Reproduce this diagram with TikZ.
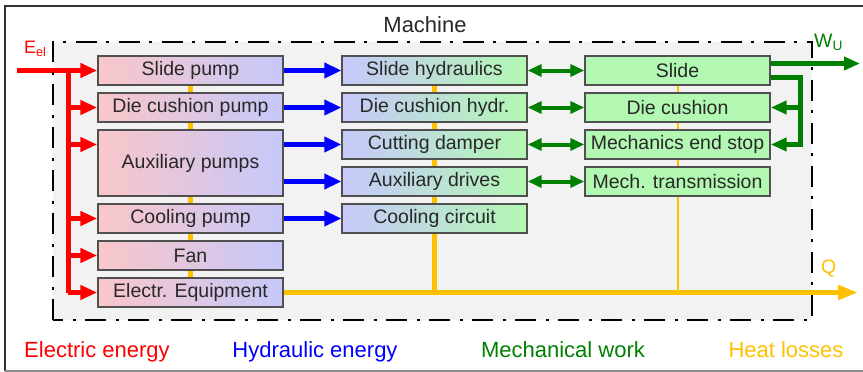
\documentclass[tikz,border=0pt]{standalone}
\usepackage{fontspec}
\setmainfont{Liberation Sans}
\usetikzlibrary{arrows.meta}
\definecolor{cred}{RGB}{255,0,0}
\definecolor{cblue}{RGB}{0,0,255}
\definecolor{cgreen}{RGB}{0,128,0}
\definecolor{cyel}{RGB}{255,192,0}
\definecolor{pinkc}{RGB}{250,198,200}
\definecolor{lavc}{RGB}{198,200,250}
\definecolor{grnc}{RGB}{178,248,178}
\definecolor{bgc}{RGB}{242,242,242}
\definecolor{bordc}{RGB}{80,80,80}
\definecolor{txtc}{RGB}{40,40,40}
\begin{document}
\begin{tikzpicture}[x=1pt,y=-1pt,
  box/.style={draw=bordc, line width=1.4pt, minimum width=185pt, minimum height=29pt,
    inner sep=0pt, text=txtc, font=\fontsize{19.5}{22}\selectfont},
  lbox/.style={box, left color=pinkc, right color=lavc},
  mbox/.style={box, left color=lavc, right color=grnc},
  rbox/.style={box, fill=grnc},
  elec/.style={cred, line width=5pt},
  earr/.style={elec, -{Triangle[length=17pt,width=14pt]}},
  hyd/.style={cblue, line width=5pt, -{Triangle[length=17pt,width=15pt]}},
  mech/.style={cgreen, line width=4pt, {Triangle[length=14pt,width=12pt]}-{Triangle[length=14pt,width=12pt]}},
  mline/.style={cgreen, line width=5pt},
  marr/.style={mline, -{Triangle[length=16pt,width=13pt]}},
  heat/.style={cyel, line width=5pt},
  heatthin/.style={cyel, line width=2pt},
  lbl/.style={font=\fontsize{22}{26}\selectfont, anchor=base, inner sep=0pt},
  machineborder/.style={line width=2.6pt, dash pattern=on 21pt off 9pt on 3pt off 10pt}
]
\useasboundingbox (0,0) rectangle (863,372);
% outer frame
\draw[black!80, line width=1.5pt] (863,6) -- (5,6) -- (5,371);
\draw[black!45, line width=1.5pt] (5,371) -- (863,371);
% machine area fill
\fill[bgc] (53,42) rectangle (812,320);

% boxes
\node[lbox] (sp) at (190.5,70.5) {Slide pump};
\node[lbox] (dcp) at (190.5,107.5) {Die cushion pump};
\node[lbox, minimum height=66pt] (ap) at (190.5,163) {Auxiliary pumps};
\node[lbox] (cp) at (190.5,218.5) {Cooling pump};
\node[lbox] (fan) at (190.5,255.5) {Fan};
\node[lbox] (ee) at (190.5,292.5) {Electr. Equipment};

\node[mbox] (sh) at (434.5,70.5) {Slide hydraulics};
\node[mbox] (dch) at (434.5,107.5) {Die cushion hydr.};
\node[mbox] (cd) at (434.5,144.5) {Cutting damper};
\node[mbox] (ad) at (434.5,181.5) {Auxiliary drives};
\node[mbox] (cc) at (434.5,218.5) {Cooling circuit};

\node[rbox] (sl) at (677.5,70.5) {Slide};
\node[rbox] (dc) at (677.5,107.5) {Die cushion};
\node[rbox] (mes) at (677.5,144.5) {Mechanics end stop};
\node[rbox] (mt) at (677.5,181.5) {Mech. transmission};

% heat losses
\coordinate (qout) at (858,292.5);
\draw[heat] (sp.south) -- (dcp.north);
\draw[heat] (dcp.south) -- (ap.north);
\draw[heat] (ap.south) -- (cp.north);
\draw[heat] (cp.south) -- (fan.north);
\draw[heat] (fan.south) -- (ee.north);
\draw[heat] (sh.south) -- (dch.north);
\draw[heat] (dch.south) -- (cd.north);
\draw[heat] (cd.south) -- (ad.north);
\draw[heat] (ad.south) -- (cc.north);
\draw[heatthin] (sl.south) -- (dc.north);
\draw[heatthin] (dc.south) -- (mes.north);
\draw[heatthin] (mes.south) -- (mt.north);
\draw[heat] (cc.south) -- (cc.south |- ee.east);
\draw[heatthin] (mt.south) -- (mt.south |- ee.east);
\draw[heat, -{Triangle[length=20pt,width=14pt]}] (ee.east) -- (qout);

% electric energy
\coordinate (ein) at (17,70.5);
\coordinate (rtop) at (68,70.5);
\coordinate (rbot) at (68,292.5);
\draw[earr] (ein) -- (sp.west);
\draw[elec] (rtop) -- (rbot);
\draw[earr] (rtop |- dcp.west) -- (dcp.west);
\draw[earr] (rtop |- cd.west) -- (ap.west |- cd.west);
\draw[earr] (rtop |- cp.west) -- (cp.west);
\draw[earr] (rtop |- fan.west) -- (fan.west);
\draw[earr] (rbot) -- (ee.west);

% hydraulic energy
\draw[hyd] (sp.east) -- (sh.west);
\draw[hyd] (dcp.east) -- (dch.west);
\draw[hyd] (ap.east |- cd.west) -- (cd.west);
\draw[hyd] (ap.east |- ad.west) -- (ad.west);
\draw[hyd] (cp.east) -- (cc.west);

% mechanical work
\draw[mech] (sh.east) -- (sl.west);
\draw[mech] (dch.east) -- (dc.west);
\draw[mech] (cd.east) -- (mes.west);
\draw[mech] (ad.east) -- (mt.west);
\coordinate (wu) at (860,63.5);
\coordinate (gb) at (800,0);
\draw[marr] ([yshift=7pt]sl.east) -- (wu);
\draw[marr] ([yshift=-7pt]sl.east) -| (gb |- mes.east) -- (mes.east);
\draw[marr] (gb |- dc.east) -- (dc.east);

% machine border
\draw[machineborder] (53,320) -- (53,42) -- (812,42) -- (812,320) -- cycle;

% labels
\node[lbl, text=txtc] (mach) at (425,32) {Machine};
\node[anchor=base west, inner sep=0pt, text=cred, font=\fontsize{18}{20}\selectfont] (eel) at (24,53) {E\textsubscript{el}};
\node[anchor=base west, inner sep=0pt, text=cgreen, font=\fontsize{19.5}{22}\selectfont] (wul) at (814,47) {W\textsubscript{U}};
\node[anchor=base west, inner sep=0pt, text=cyel, font=\fontsize{19.5}{22}\selectfont] (ql) at (821,273) {Q};

\node[lbl, text=cred] (l1) at (97,357) {Electric energy};
\node[lbl, text=cblue] (l2) at (315,357) {Hydraulic energy};
\node[lbl, text=cgreen] (l3) at (563,357) {Mechanical work};
\node[lbl, text=cyel] (l4) at (786,357) {Heat losses};
\end{tikzpicture}
\end{document}
